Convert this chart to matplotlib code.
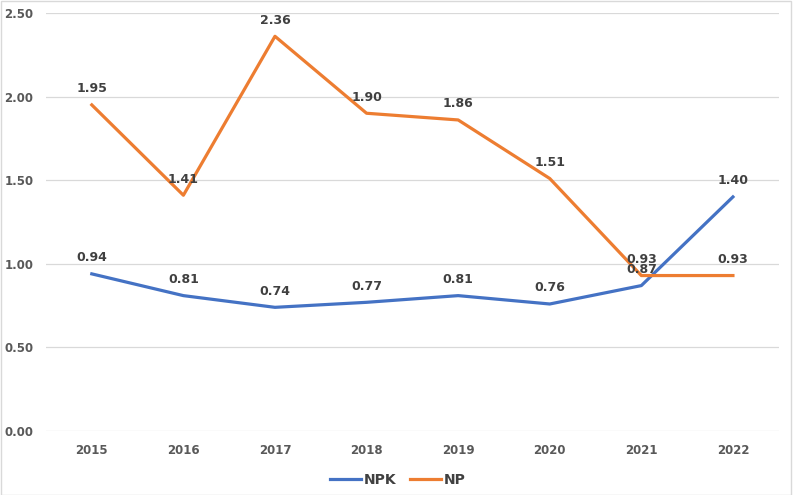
import matplotlib
matplotlib.use("Agg")
import matplotlib.pyplot as plt
from matplotlib.patches import Rectangle

years = ["2015", "2016", "2017", "2018", "2019", "2020", "2021", "2022"]
npk = [0.94, 0.81, 0.74, 0.77, 0.81, 0.76, 0.87, 1.40]
np_vals = [1.95, 1.41, 2.36, 1.90, 1.86, 1.51, 0.93, 0.93]
yticks = [0.0, 0.5, 1.0, 1.5, 2.0, 2.5]

plt.rcParams['font.family'] = ['DejaVu Sans']
fig = plt.figure(figsize=(7.93, 4.95), dpi=100)
ax = fig.add_axes([0.058, 0.129, 0.924, 0.845])

fig.patches.append(Rectangle((0.001, 0.001), 0.997, 0.997, transform=fig.transFigure,
                             fill=False, edgecolor='#D9D9D9', lw=1.0))

x = list(range(len(years)))
blue = '#4472C4'
orange = '#ED7D31'
ax.plot(x, npk, color=blue, lw=2.3, label='NPK', solid_joinstyle='round', zorder=3)
ax.plot(x, np_vals, color=orange, lw=2.3, label='NP', solid_joinstyle='round', zorder=3)

for xi, v in zip(x, npk):
    ax.annotate(f"{v:.2f}", (xi, v), xytext=(0, 7), textcoords='offset points',
                ha='center', va='bottom', fontsize=9, fontweight='bold', color='#404040', zorder=4)
for xi, v in zip(x, np_vals):
    ax.annotate(f"{v:.2f}", (xi, v), xytext=(0, 7), textcoords='offset points',
                ha='center', va='bottom', fontsize=9, fontweight='bold', color='#404040', zorder=4)

ax.set_xlim(-0.5, len(years) - 0.5)
ax.set_ylim(0, 2.5)
ax.set_yticks(yticks)
ax.set_yticklabels([f"{t:.2f}" for t in yticks])
ax.set_xticks(x)
ax.set_xticklabels(years)
ax.grid(axis='y', color='#D9D9D9', lw=0.9)
ax.set_axisbelow(True)
for s in ax.spines.values():
    s.set_visible(False)
ax.tick_params(length=0, labelsize=8.5, labelcolor='#595959')
for lab in ax.get_xticklabels() + ax.get_yticklabels():
    lab.set_fontweight('bold')
ax.tick_params(axis='x', pad=9)
ax.tick_params(axis='y', pad=9)

leg = ax.legend(loc='upper center', bbox_to_anchor=(0.48, -0.07), ncol=2, frameon=False,
                fontsize=10, handlelength=2.2, columnspacing=1.0, handletextpad=0.2)
for t in leg.get_texts():
    t.set_fontweight('bold')
    t.set_color('#404040')

fig.savefig('out.png', dpi=100)
